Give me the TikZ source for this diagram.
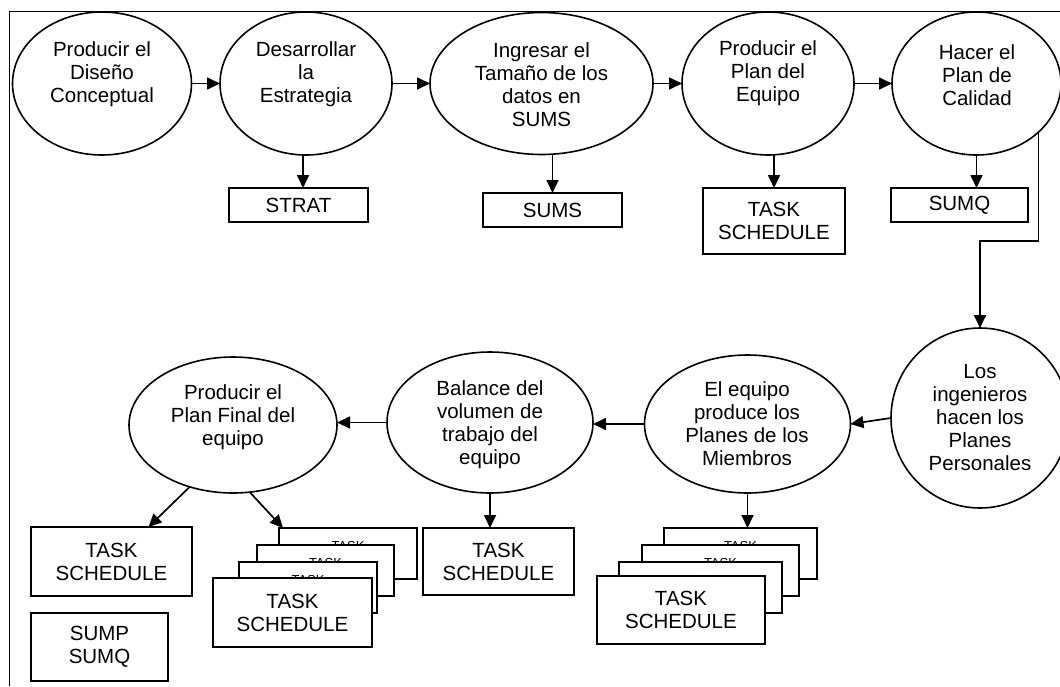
\documentclass[tikz,border=0pt]{standalone}
\usepackage{fontspec}
\setmainfont{Liberation Sans}
\usetikzlibrary{arrows.meta,shapes.geometric}
\begin{document}
\begin{tikzpicture}[x=1pt,y=-1pt,
  proc/.style={draw, ellipse, line width=1.6pt, inner sep=0pt, outer sep=0pt},
  ptext/.style={align=center, inner sep=0pt, font=\fontsize{20.5}{23}\selectfont},
  doc/.style={draw, fill=white, line width=1.8pt, inner sep=0pt, outer sep=0pt,
              align=center, font=\fontsize{20.5}{23}\selectfont},
  docsmall/.style={doc, font=\fontsize{13}{15}\selectfont},
  arr/.style={-{Triangle[length=13pt,width=12pt]}, line width=1.7pt},
  frame/.style={line width=1.5pt}]

\useasboundingbox (0,0) rectangle (1060,686);
\clip (0,0) rectangle (1060,686);

% outer frame (top and left edges)
\draw[frame] (1060,11.7) -- (9.3,11.7) -- (9.3,686);

% ---- process ellipses, top row ----
\node[proc, minimum width=179pt, minimum height=143pt] (e1) at (102,83.5) {};
\node[ptext] (t1) at (102,74.5) {Producir el\\Diseño\\Conceptual};
\node[proc, minimum width=172pt, minimum height=143pt] (e2) at (306,83.5) {};
\node[ptext] (t2) at (306,74.5) {Desarrollar\\la\\Estrategia};
\node[proc, minimum width=223pt, minimum height=142pt] (e3) at (541.5,83.5) {};
\node[ptext] (t3) at (541.5,85) {Ingresar el\\Tamaño de los\\datos en\\SUMS};
\node[proc, minimum width=172pt, minimum height=143pt] (e4) at (768,83.5) {};
\node[ptext] (t4) at (768,73.5) {Producir el\\Plan del\\Equipo};
\node[proc, minimum width=169pt, minimum height=143pt] (e5) at (976.5,83.5) {};
\node[ptext] (t5) at (977,75.5) {Hacer el\\Plan de\\Calidad};

% ---- process ellipses, bottom row ----
\node[proc, minimum width=178pt, minimum height=180pt] (e6) at (980,418) {};
\node[ptext] (t6) at (980,418) {Los\\ingenieros\\hacen los\\Planes\\Personales};
\node[proc, minimum width=206pt, minimum height=138pt] (e7) at (747.5,424) {};
\node[ptext] (t7) at (747,424) {El equipo\\produce los\\Planes de los\\Miembros};
\node[proc, minimum width=206pt, minimum height=141pt] (e8) at (490,422.5) {};
\node[ptext] (t8) at (490,424.5) {Balance del\\volumen de\\trabajo del\\equipo};
\node[proc, minimum width=208pt, minimum height=136pt] (e9) at (233,425) {};
\node[ptext] (t9) at (233,417.5) {Producir el\\Plan Final del\\equipo};

% ---- output documents, top row ----
\node[doc, minimum width=139pt, minimum height=34pt] (strat) at (298.5,205) {STRAT};
\node[doc, minimum width=139pt, minimum height=34pt] (sums) at (552.5,210) {SUMS};
\node[doc, minimum width=142pt, minimum height=66pt] (ts1) at (774,221) {TASK\\SCHEDULE};
\node[doc, minimum width=137pt, minimum height=34pt] (sumq) at (959.5,205) {SUMQ};

% ---- output documents, bottom row ----
\node[doc, minimum width=161pt, minimum height=69pt] (ts4) at (111.5,561.5) {TASK\\SCHEDULE};
\node[doc, minimum width=137pt, minimum height=68pt] (sump) at (99.5,647) {SUMP\\SUMQ};
\node[doc, minimum width=151pt, minimum height=67pt] (ts3) at (498.5,561.5) {TASK\\SCHEDULE};

% stacked schedules after the final plan (back sheets show only their top line)
\node[docsmall, minimum width=138pt, minimum height=51pt] (s1a) at (348,553.5) {TASK\\\phantom{SCHEDULE}};
\node[docsmall, minimum width=137pt, minimum height=51pt] (s1b) at (325.5,570.5) {TASK\\\phantom{SCHEDULE}};
\node[docsmall, minimum width=138pt, minimum height=51pt] (s1c) at (308,587.5) {TASK\\\phantom{SCHEDULE}};
\node[doc, minimum width=159pt, minimum height=69pt] (s1d) at (292.5,612.5) {TASK\\SCHEDULE};

% stacked schedules of the members
\node[docsmall, minimum width=153pt, minimum height=51pt] (s2a) at (740.5,553.5) {TASK\\\phantom{SCHEDULE}};
\node[docsmall, minimum width=157pt, minimum height=51pt] (s2b) at (720.5,570.5) {TASK\\\phantom{SCHEDULE}};
\node[docsmall, minimum width=163pt, minimum height=51pt] (s2c) at (700.5,587.5) {TASK\\\phantom{SCHEDULE}};
\node[doc, minimum width=168pt, minimum height=68pt] (s2d) at (681,610) {TASK\\SCHEDULE};

% ---- flow between processes ----
\draw[arr] (e1) -- (e2);
\draw[arr] (e2) -- (e3);
\draw[arr] (e3) -- (e4);
\draw[arr] (e4) -- (e5);
\coordinate (bend) at (980,241);
\draw[arr] (e5.322) |- (bend) -- (e6.north);
\draw[arr] (e6.west) -- (e7.east);
\draw[arr] (e7.west) -- (e7.west -| e8.east);
\draw[arr] (e8.west) -- (e8.west -| e9.east);

% ---- outputs ----
\draw[arr] ([xshift=-3pt]e2.south) -- ([xshift=-3pt]e2.south |- strat.north);
\draw[arr] (e3.south -| sums.north) -- (sums.north);
\draw[arr] (e4.south -| ts1.north) -- (ts1.north);
\draw[arr] (e5.south) -- (e5.south |- sumq.north);
\draw[arr] (e7.south) -- (e7.south |- s2a.north);
\draw[arr] (e8.south) -- (e8.south |- ts3.north);
\draw[arr] (e9.235) -- ([xshift=37pt]ts4.north);
\draw[arr] (e9.284) -- ([xshift=4pt]s1a.north west);
\end{tikzpicture}
\end{document}
